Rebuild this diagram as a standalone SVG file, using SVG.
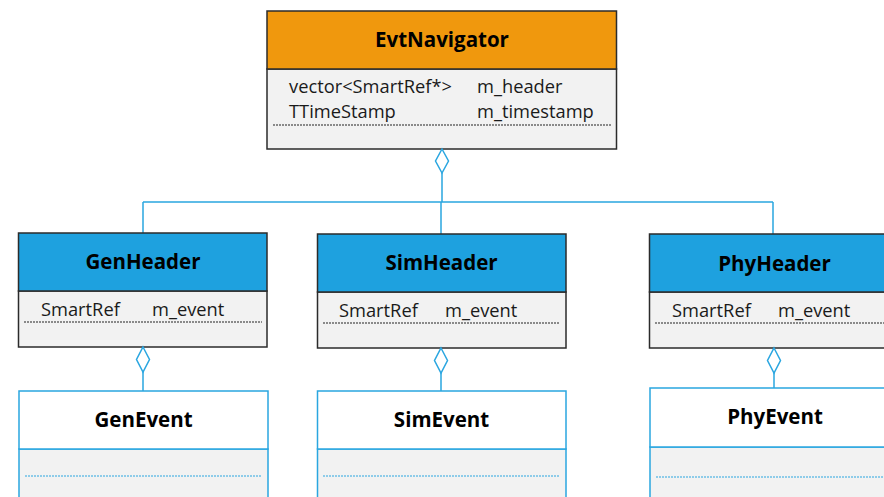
<svg xmlns="http://www.w3.org/2000/svg" width="884" height="497" viewBox="0 0 884 497">
<defs>
<style>
.bg{fill:#ffffff}
.t{font-family:"Open Sans","Noto Sans","DejaVu Sans",sans-serif;fill:#1a1a1a}
.title{font-weight:bold;font-size:20.5px;text-anchor:middle;fill:#000}
.attr{font-size:18.3px}
.hdr{stroke:#2b2b2b;stroke-width:1.5}
.evb{stroke:#2aa6e0;stroke-width:1.5}
.orange{fill:#f0980d}
.blue{fill:#1ea1df}
.grey{fill:#f2f2f2}
.white{fill:#ffffff}
.dot{stroke:#222;stroke-width:1;stroke-dasharray:2,1;fill:none}
.dotb{stroke:#2aa6e0;stroke-width:1;stroke-dasharray:2,1;fill:none}
.conn{stroke:#2aa6e0;stroke-width:1.5;fill:none}
.dia{stroke:#2aa6e0;stroke-width:1.5;fill:#ffffff}
</style>
</defs>
<rect x="0" y="0" width="884" height="497" class="bg"/>

<g id="connectors">
<path class="conn" d="M442,173 V202 M143,202 H773 M143,202 V233 M441,202 V234 M773,202 V234"/>
<path class="conn" d="M143,372 V391 M441,373 V391 M774,373 V388"/>
</g>

<g id="EvtNavigator">
<rect x="267" y="69" width="349.5" height="80" class="grey hdr"/>
<rect x="267" y="11" width="349.5" height="58" class="orange hdr"/>
<text x="442" y="47" class="t title">EvtNavigator</text>
<text x="289" y="92.5" class="t attr">vector&lt;SmartRef*&gt;</text>
<text x="477" y="92.5" class="t attr">m_header</text>
<text x="289" y="118" class="t attr">TTimeStamp</text>
<text x="477" y="118" class="t attr">m_timestamp</text>
<line x1="273" y1="125" x2="612" y2="125" class="dot"/>
<polygon class="dia" points="442,149 448.5,161 442,173 435.5,161"/>
</g>

<g id="GenHeader">
<rect x="18.5" y="291" width="248.5" height="56" class="grey hdr"/>
<rect x="18.5" y="233" width="248.5" height="58" class="blue hdr"/>
<text x="143" y="269" class="t title">GenHeader</text>
<text x="41" y="316" class="t attr">SmartRef</text>
<text x="152" y="316" class="t attr">m_event</text>
<line x1="24" y1="322" x2="262" y2="322" class="dot"/>
<polygon class="dia" points="143,347 149.5,359.5 143,372 136.5,359.5"/>
</g>

<g id="SimHeader">
<rect x="317.5" y="292" width="248.5" height="56" class="grey hdr"/>
<rect x="317.5" y="234" width="248.5" height="58" class="blue hdr"/>
<text x="441.5" y="270" class="t title">SimHeader</text>
<text x="339" y="317" class="t attr">SmartRef</text>
<text x="445" y="317" class="t attr">m_event</text>
<line x1="323" y1="323" x2="560" y2="323" class="dot"/>
<polygon class="dia" points="441,348 447.5,360.5 441,373 434.5,360.5"/>
</g>

<g id="PhyHeader">
<rect x="649.5" y="292" width="250" height="56" class="grey hdr"/>
<rect x="649.5" y="234" width="250" height="58" class="blue hdr"/>
<text x="774.5" y="271" class="t title">PhyHeader</text>
<text x="672" y="317" class="t attr">SmartRef</text>
<text x="778" y="317" class="t attr">m_event</text>
<line x1="655" y1="323" x2="884" y2="323" class="dot"/>
<polygon class="dia" points="774,348 780.5,360.5 774,373 767.5,360.5"/>
</g>

<g id="GenEvent">
<rect x="19" y="449" width="249" height="60" class="grey evb"/>
<rect x="19" y="391" width="249" height="58" class="white evb"/>
<text x="143.5" y="427" class="t title">GenEvent</text>
<line x1="25" y1="476" x2="262" y2="476" class="dotb"/>
</g>

<g id="SimEvent">
<rect x="317.5" y="449" width="248.5" height="60" class="grey evb"/>
<rect x="317.5" y="391" width="248.5" height="58" class="white evb"/>
<text x="441.5" y="427" class="t title">SimEvent</text>
<line x1="323" y1="476" x2="560" y2="476" class="dotb"/>
</g>

<g id="PhyEvent">
<rect x="650" y="447" width="250" height="62" class="grey evb"/>
<rect x="650" y="388" width="250" height="59" class="white evb"/>
<text x="775" y="424" class="t title">PhyEvent</text>
<line x1="656" y1="477" x2="884" y2="477" class="dotb"/>
</g>
</svg>
